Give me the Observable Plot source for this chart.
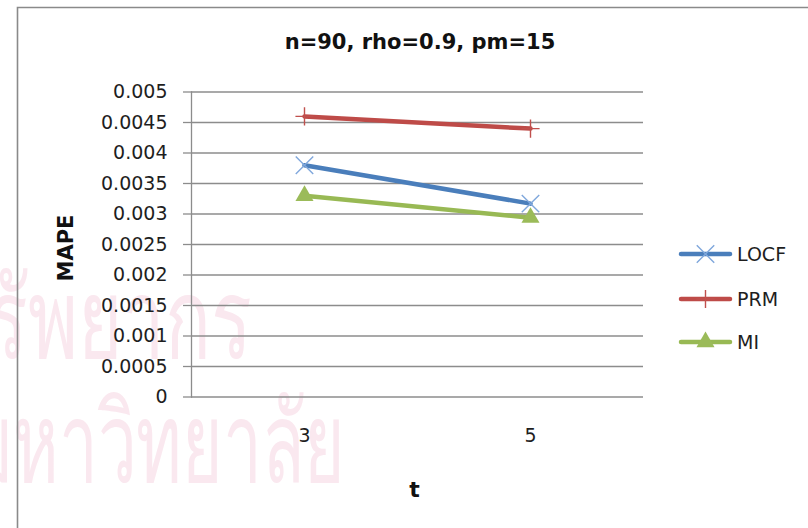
<!DOCTYPE html>
<html>
<head>
<meta charset="utf-8">
<script src="https://cdn.jsdelivr.net/npm/d3@7"></script>
<script src="https://cdn.jsdelivr.net/npm/@observablehq/plot@0.6"></script>
<style>
  body { margin: 0; background: #fff; }
  #wrap { position: relative; width: 808px; height: 528px; overflow: hidden; background: #fff; }
  #wrap > svg { position: absolute; left: 0; top: 0; }
</style>
</head>
<body>
<div id="wrap"></div>
<script>
// Time points on the x axis
const tValues = ["3", "5"];
// Series names (legend order)
const seriesNames = ["LOCF", "PRM", "MI"];
// MAPE per method at t = 3 and t = 5
const locfValues = [0.0038, 0.00317];
const prmValues = [0.0046, 0.0044];
const miValues = [0.0033, 0.00294];
// Y axis ticks
const yTickValues = [0, 0.0005, 0.001, 0.0015, 0.002, 0.0025, 0.003, 0.0035, 0.004, 0.0045, 0.005];

const titleText = "n=90, rho=0.9, pm=15";
const xLabel = "t";
const yLabel = "MAPE";

const lineColors = ["#4a7ebb", "#be4b48", "#98b954"];
const markColors = ["#7fa7dc", "#c0504d", "#9bbb59"];
const markSymbols = ["times", "plus", "triangle"];
const markRadius = [8, 5.9, 6.7];
const markFilled = [false, false, true];

const rows = [locfValues, prmValues, miValues].flatMap((vals, i) =>
  vals.map((v, j) => ({series: seriesNames[i], t: tValues[j], value: v}))
);

const wrap = document.getElementById("wrap");
const W = 808, H = 528;
const font = "'DejaVu Sans', sans-serif";
const gridColor = "#8c8c8c";

// Background watermark (condensed, pale pink)
const bg = d3.create("svg").attr("width", W).attr("height", H);
bg.append("text").attr("transform", "translate(252,358) scale(0.68,1)").attr("text-anchor", "end")
  .attr("font-family", "'Noto Sans', sans-serif").attr("font-size", 112)
  .attr("fill", "#fae8ef").text("ศูนย์วิทยทรัพยากร");
bg.append("text").attr("transform", "translate(345,482) scale(0.62,1)").attr("text-anchor", "end")
  .attr("font-family", "'Noto Sans', sans-serif").attr("font-size", 112)
  .attr("fill", "#fae8ef").text("จุฬาลงกรณ์มหาวิทยาลัย");
wrap.appendChild(bg.node());

const markLayers = seriesNames.map((name, i) =>
  Plot.dot(rows.filter(d => d.series === name), {
    x: "t", y: "value",
    symbol: () => markSymbols[i],
    r: markRadius[i],
    stroke: markFilled[i] ? "none" : markColors[i],
    fill: markFilled[i] ? markColors[i] : "none",
    strokeWidth: 1.4
  })
);

const chart = Plot.plot({
  width: W,
  height: H,
  marginLeft: 191,
  marginRight: 165,
  marginTop: 91.5,
  marginBottom: 131.5,
  style: {background: "transparent", fontFamily: font, overflow: "visible"},
  x: {type: "point", domain: tValues, padding: 0.5},
  y: {domain: [0, 0.005]},
  color: {domain: seriesNames, range: lineColors},
  symbol: {domain: markSymbols, range: markSymbols},
  marks: [
    Plot.ruleY(yTickValues, {stroke: gridColor, strokeWidth: 1.3}),
    Plot.frame({anchor: "left", stroke: gridColor, strokeWidth: 1.3}),
    Plot.axisY(yTickValues, {
      tickSize: 8, tickPadding: 16,
      tickFormat: d => String(+d.toFixed(4)),
      stroke: gridColor, strokeWidth: 1.3, fill: "#1e1e1e",
      fontSize: 19, label: null
    }),
    Plot.axisX({tickSize: 0, tickPadding: 31, fill: "#1e1e1e", fontSize: 19, label: null}),
    Plot.text([xLabel], {frameAnchor: "bottom", lineAnchor: "middle", textAnchor: "middle", dy: 92.5, dx: -3, fontSize: 22, fontWeight: "bold", fill: "#111"}),
    Plot.text([yLabel], {frameAnchor: "left", textAnchor: "middle", lineAnchor: "middle", dx: -125.5, dy: 3.5, rotate: -90, fontSize: 21, fontWeight: "bold", fill: "#111"}),
    Plot.line(rows, {x: "t", y: "value", z: "series", stroke: "series", strokeWidth: 4.5, strokeLinecap: "round"}),
    ...markLayers
  ]
});
wrap.appendChild(chart);

// Frame, title and legend
const fg = d3.create("svg").attr("width", W).attr("height", H).style("pointer-events", "none");
fg.append("path").attr("d", `M17.5,${H + 5}V7.5H${W + 5}`)
  .attr("fill", "none").attr("stroke", "#8a8a8a").attr("stroke-width", 1.6);
fg.append("text").attr("x", 420).attr("y", 48.5).attr("text-anchor", "middle")
  .attr("font-family", font).attr("font-weight", "bold").attr("font-size", 21)
  .attr("fill", "#111").text(titleText);

const legendY = [254, 299, 342];
const sym = {times: d3.symbolTimes, plus: d3.symbolPlus, triangle: d3.symbolTriangle};
seriesNames.forEach((name, i) => {
  const g = fg.append("g").attr("transform", `translate(0,${legendY[i]})`);
  g.append("line").attr("x1", 681).attr("x2", 730)
    .attr("stroke", lineColors[i]).attr("stroke-width", 4.5).attr("stroke-linecap", "round");
  g.append("path").attr("transform", "translate(705.5,0)")
    .attr("d", d3.symbol(sym[markSymbols[i]], Math.PI * markRadius[i] ** 2)())
    .attr("fill", markFilled[i] ? markColors[i] : "none")
    .attr("stroke", markFilled[i] ? "none" : markColors[i])
    .attr("stroke-width", 1.4);
  g.append("text").attr("x", 737).attr("y", 0).attr("dy", "0.36em")
    .attr("font-family", font).attr("font-size", 19).attr("fill", "#1e1e1e").text(name);
});
wrap.appendChild(fg.node());
</script>
</body>
</html>
